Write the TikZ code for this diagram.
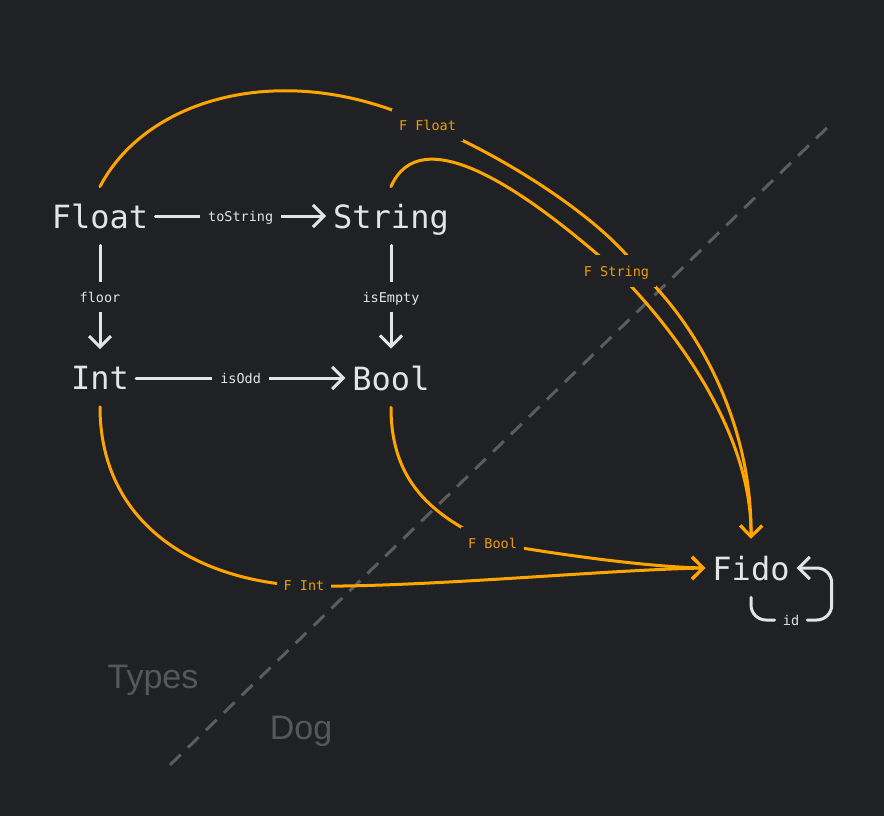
\documentclass[tikz,border=0pt]{standalone}
\usepackage{fontspec}
\usepackage{tikz}
\usetikzlibrary{arrows.meta, backgrounds}

\newfontfamily\monofont{DejaVu Sans Mono}
\newfontfamily\regionfont{Liberation Sans}

\definecolor{bg}{HTML}{202124}
\definecolor{chalk}{HTML}{E3E4E6}
\definecolor{fmap}{HTML}{FFA500}
\definecolor{flabel}{HTML}{EC9E0C}
\definecolor{divider}{HTML}{5A5C60}
\definecolor{region}{HTML}{55575B}

\begin{document}
\begin{tikzpicture}[x = 1pt, y = -1pt,
  type/.style = {text = chalk, font = \monofont\fontsize{32}{32}\selectfont,
                 inner xsep = 7pt, inner ysep = 17pt, text depth = 0pt},
  fn/.style = {text = chalk, fill = bg, font = \monofont\fontsize{13.5}{14}\selectfont,
               inner xsep = 8pt, inner ysep = 10pt, text depth = 0pt},
  fname/.style = {text = flabel, fill = bg, font = \monofont\fontsize{13.5}{14}\selectfont,
                  inner xsep = 7pt, inner ysep = 11pt, text depth = 0pt},
  arr/.style = {draw = chalk, line width = 3pt, line cap = round,
                -{Straight Barb[length = 11pt, width = 22pt]}},
  fline/.style = {draw = fmap, line width = 3pt, line cap = round,
                  -{Straight Barb[length = 11pt, width = 22pt]}}]

\useasboundingbox (0, 0) rectangle (884, 816);

% types
\node[type] (Float)  at (100, 216) {Float};
\node[type] (String) at (391, 216) {String};
\node[type] (Int)    at (100, 378) {Int};
\node[type] (Bool)   at (391, 378) {Bool};

% the dog
\node[type] (Fido) at (751, 568) {Fido};

% functor labels
\node[fname] (fFloat)  at (427.5, 125) {F Float};
\node[fname] (fString) at (616.5, 271) {F String};
\node[fname] (fBool)   at (492.5, 543) {F Bool};
\node[fname] (fInt)    at (304, 586) {F Int};

\node[text = region, font = \regionfont\fontsize{34}{34}\selectfont, anchor = base] (types) at (153, 688) {Types};
\node[text = region, font = \regionfont\fontsize{34}{34}\selectfont, anchor = base] (dog) at (301, 739) {Dog};

\begin{scope}[on background layer]
\fill[bg] (0, 0) rectangle (884, 816);
\draw[divider, line width = 3pt, dash pattern = on 15pt off 10pt] (170, 765) -- (833, 122);

% F applied to every arrow's source
\draw[fline] (Float.north) .. controls (148, 95) and (290, 58) .. (fFloat.center)
  .. controls (492, 150) and (600, 215) .. ([xshift = 23pt]fString.center)
  .. controls (695, 322) and (752, 420) .. (Fido.north);
\draw[fline] (String.north) .. controls (420, 120) and (520, 185) .. (fString.center)
  .. controls (685, 340) and (752, 440) .. (Fido.north);
\draw[fline] (Int.south) .. controls (100, 520) and (190, 580) .. (fInt.center)
  .. controls (420, 588) and (600, 570) .. (Fido.west);
\draw[fline] (Bool.south) .. controls (391, 480) and (430, 515) .. (fBool.center)
  .. controls (560, 555) and (650, 567) .. (Fido.west);
\end{scope}

% functions between types
\draw[arr] (Float) -- node[fn] {toString} (String);
\draw[arr] (Float) -- node[fn] {floor} (Int);
\draw[arr] (String) -- node[fn] {isEmpty} (Bool);
\draw[arr] (Int) -- node[fn] {isOdd} (Bool);

% identity on Fido
\node[fn] (id) at (791, 620) {id};
\draw[draw = chalk, line width = 3pt, line cap = round, rounded corners = 15pt] (Fido.south) |- (id.west);
\draw[arr, rounded corners = 15pt] (id.east) -| ([xshift = 35pt]Fido.east) -- (Fido.east);

\end{tikzpicture}
\end{document}
